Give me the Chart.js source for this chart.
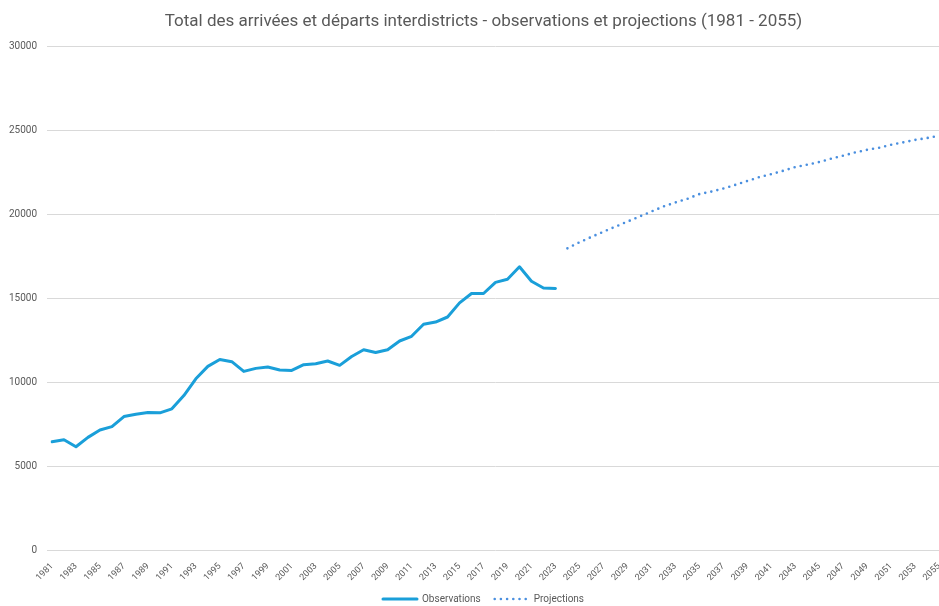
<!DOCTYPE html>
<html>
<head>
<meta charset="utf-8">
<script src="https://cdn.jsdelivr.net/npm/chart.js@4"></script>
<style>
  html, body { margin: 0; padding: 0; background: #fff; }
  #wrap { width: 939px; height: 606px; }
</style>
</head>
<body>
<div id="wrap"><canvas id="chart" width="939" height="606"></canvas></div>
<script>
// années 1981 - 2055
const years = [];
for (let y = 1981; y <= 2055; y++) years.push(String(y));

// observations 1981 - 2023
const observations = [
  6450, 6570, 6150, 6710, 7150, 7350, 7950, 8090, 8190, 8170,
  8410, 9200, 10200, 10940, 11350, 11220, 10640, 10820, 10900, 10720,
  10700, 11040, 11100, 11260, 11000, 11530, 11930, 11770, 11930, 12450,
  12730, 13450, 13580, 13880, 14720, 15280, 15280, 15940, 16130, 16870,
  16010, 15610, 15580
];

// projections 2024 - 2055
const projections = [
  17970, 18330, 18650, 18960, 19260, 19560, 19860, 20160, 20460, 20700,
  20920, 21200, 21350, 21530, 21750, 21980, 22210, 22390, 22590, 22810,
  22950, 23110, 23310, 23490, 23680, 23840, 23960, 24140, 24280, 24430,
  24540, 24680
];

const obsData = years.map((y, i) => i < observations.length ? observations[i] : null);
const projData = years.map((y, i) => {
  const j = i - observations.length;
  return j >= 0 ? projections[j] : null;
});

const fontFam = "'Roboto', 'Liberation Sans', sans-serif";
const grey = '#595959';
const gridCol = '#d9d9d9';

// titre et légende centrés un peu à droite, comme dans l'original
const shiftBlocks = {
  id: 'shiftBlocks',
  afterLayout(chart) {
    chart.titleBlock.left += 28;
    chart.legend.left += 28;
    chart.legend.top -= 4;
  }
};

const ctx = document.getElementById('chart').getContext('2d');
new Chart(ctx, {
  type: 'line',
  data: {
    labels: years,
    datasets: [
      {
        label: 'Observations',
        data: obsData,
        borderColor: '#1a9fd9',
        borderWidth: 3,
        borderCapStyle: 'round',
        borderJoinStyle: 'round',
        tension: 0,
        pointRadius: 0,
        fill: false
      },
      {
        label: 'Projections',
        data: projData,
        borderColor: '#4a8fdf',
        borderWidth: 2.6,
        borderDash: [0, 6.2],
        borderCapStyle: 'round',
        tension: 0,
        pointRadius: 0,
        fill: false
      }
    ]
  },
  plugins: [shiftBlocks],
  options: {
    responsive: false,
    animation: false,
    layout: { padding: { left: 0, right: 0, top: 0, bottom: -12 } },
    plugins: {
      title: {
        display: true,
        text: 'Total des arrivées et départs interdistricts - observations et projections (1981 - 2055)',
        color: grey,
        font: { family: fontFam, size: 17, weight: 'normal' },
        padding: { top: 12, bottom: 14 }
      },
      legend: {
        position: 'bottom',
        labels: {
          color: grey,
          font: { family: fontFam, size: 10 },
          usePointStyle: true,
          pointStyleWidth: 34,
          boxHeight: 10,
          padding: 14,
          generateLabels: (chart) => {
            return chart.data.datasets.map((ds, i) => ({
              text: ds.label,
              datasetIndex: i,
              fillStyle: ds.borderColor,
              strokeStyle: ds.borderColor,
              lineWidth: ds.borderWidth,
              lineDash: ds.borderDash || [],
              lineCap: ds.borderCapStyle,
              pointStyle: 'line',
              fontColor: grey,
              hidden: false
            }));
          }
        }
      },
      tooltip: { enabled: false }
    },
    scales: {
      x: {
        grid: { display: false },
        border: { display: false },
        afterFit: (s) => { s.paddingLeft = 0; s.paddingRight = 0; s.height = 34; },
        ticks: {
          color: grey,
          font: { family: fontFam, size: 9 },
          autoSkip: false,
          minRotation: 45,
          maxRotation: 45,
          padding: 3,
          callback: function (v, i) { return i % 2 === 0 ? this.getLabelForValue(v) : ''; }
        }
      },
      y: {
        min: 0,
        max: 30000,
        afterFit: (s) => { s.width = 52; },
        grid: { color: gridCol, lineWidth: 1, drawTicks: true, tickLength: 5, tickColor: gridCol },
        border: { display: false },
        ticks: {
          stepSize: 5000,
          color: grey,
          font: { family: fontFam, size: 10 },
          padding: 10,
          callback: (v) => String(v)
        }
      }
    }
  }
});
</script>
</body>
</html>
